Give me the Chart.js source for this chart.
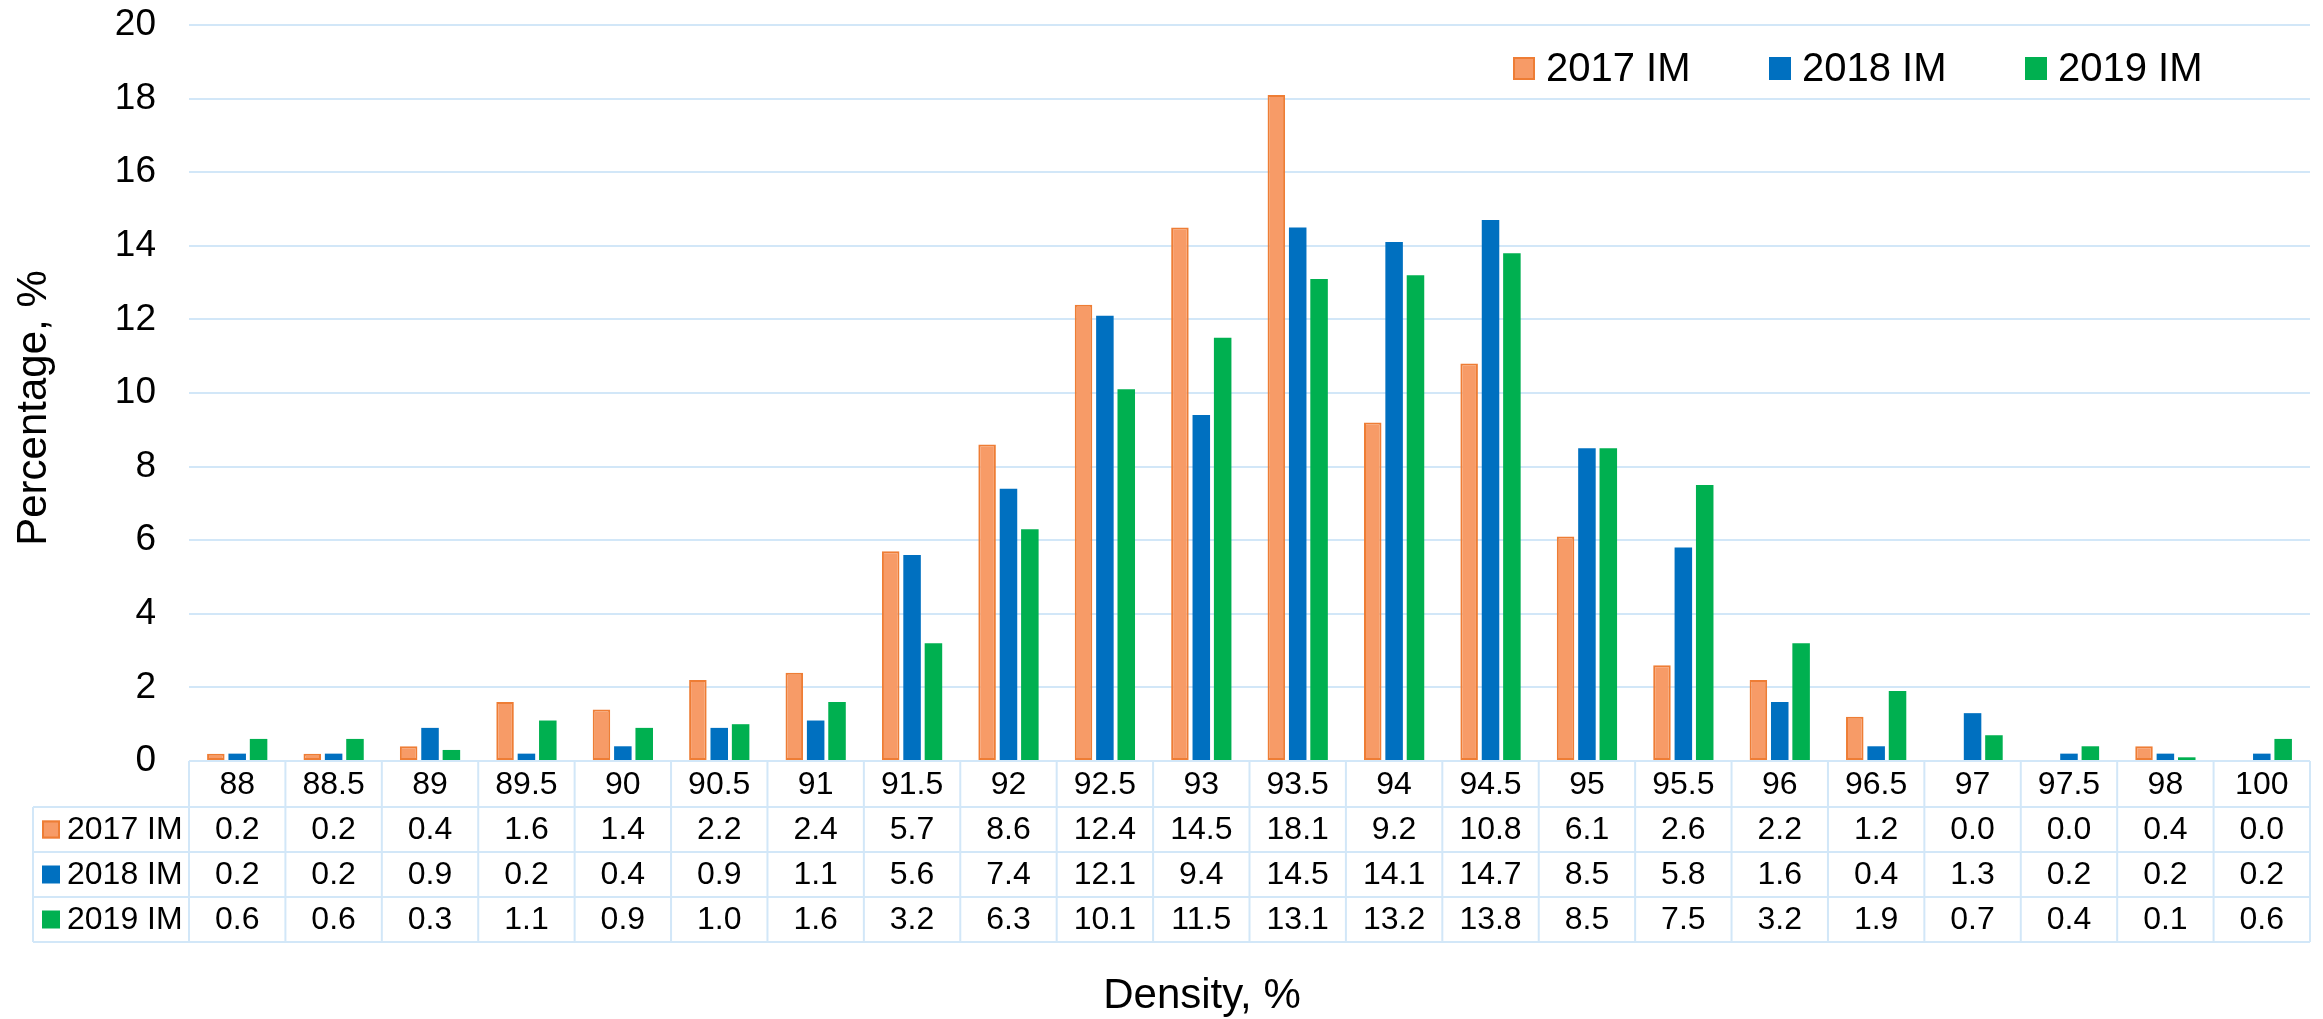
<!DOCTYPE html>
<html>
<head>
<meta charset="utf-8">
<title>Density distribution, 2017-2019 IM</title>
<script src="https://cdn.jsdelivr.net/npm/chart.js@4.4.1/dist/chart.umd.min.js"></script>
<style>
    html, body { margin: 0; padding: 0; background: #ffffff; }
    #densityChart { display: block; }
</style>
</head>
<body>
<canvas id="densityChart" width="2323" height="1019"></canvas>
<script>
// Chart data
const densityLabels = ['88', '88.5', '89', '89.5', '90', '90.5', '91', '91.5', '92', '92.5', '93',
    '93.5', '94', '94.5', '95', '95.5', '96', '96.5', '97', '97.5', '98', '100'];
const im2017 = [0.2, 0.2, 0.4, 1.6, 1.4, 2.2, 2.4, 5.7, 8.6, 12.4, 14.5, 18.1, 9.2, 10.8, 6.1, 2.6, 2.2, 1.2, 0.0, 0.0, 0.4, 0.0];
const im2018 = [0.2, 0.2, 0.9, 0.2, 0.4, 0.9, 1.1, 5.6, 7.4, 12.1, 9.4, 14.5, 14.1, 14.7, 8.5, 5.8, 1.6, 0.4, 1.3, 0.2, 0.2, 0.2];
const im2019 = [0.6, 0.6, 0.3, 1.1, 0.9, 1.0, 1.6, 3.2, 6.3, 10.1, 11.5, 13.1, 13.2, 13.8, 8.5, 7.5, 3.2, 1.9, 0.7, 0.4, 0.1, 0.6];
const seriesNames = ['2017 IM', '2018 IM', '2019 IM'];
const yMin = 0;
const yMax = 20;
const yStep = 2;

const FONT = '"Liberation Sans", Arial, Helvetica, sans-serif';
const GRID_COLOR = '#d2e7f8';
const fills = ['#f79b67', '#0070c0', '#00b050'];
const borders = ['#ee7d35', '#0070c0', '#00b050'];

// Draw a legend key (small square), with the orange one outlined
function drawKey(ctx, i, x, y, w, h) {
    ctx.fillStyle = fills[i];
    ctx.fillRect(x, y, w, h);
    if (i === 0) {
        ctx.strokeStyle = borders[0];
        ctx.lineWidth = 2;
        ctx.strokeRect(x + 1, y + 1, w - 2, h - 2);
    }
}

// Data table, legend and axis titles drawn on top of the chart
const tablePlugin = {
    id: 'dataTable',
    afterDraw(chart) {
        const ctx = chart.ctx;
        const area = chart.chartArea;
        const xScale = chart.scales.x;
        const half = (xScale.getPixelForValue(1) - xScale.getPixelForValue(0)) / 2;
        const rows = [im2017, im2018, im2019];

        const top = area.bottom;
        const headerBottom = top + 46;
        const rowH = 45;
        const tableBottom = headerBottom + rowH * rows.length;
        const labelLeft = 33;

        ctx.save();
        ctx.strokeStyle = GRID_COLOR;
        ctx.lineWidth = 2;
        ctx.beginPath();
        // horizontal lines
        ctx.moveTo(area.left, top);
        ctx.lineTo(area.right, top);
        for (let r = 0; r <= rows.length; r++) {
            const y = headerBottom + r * rowH;
            ctx.moveTo(labelLeft, y);
            ctx.lineTo(area.right, y);
        }
        // vertical lines
        ctx.moveTo(labelLeft, headerBottom);
        ctx.lineTo(labelLeft, tableBottom);
        for (let i = 0; i <= densityLabels.length; i++) {
            const x = i < densityLabels.length ? xScale.getPixelForValue(i) - half : area.right;
            ctx.moveTo(x, top);
            ctx.lineTo(x, tableBottom);
        }
        ctx.stroke();

        // cell texts
        ctx.fillStyle = '#000000';
        ctx.font = '32px ' + FONT;
        ctx.textAlign = 'center';
        ctx.textBaseline = 'middle';
        densityLabels.forEach((label, i) => {
            const x = xScale.getPixelForValue(i);
            ctx.fillText(label, x, (top + headerBottom) / 2 + 1);
            rows.forEach((values, r) => {
                const y = headerBottom + r * rowH + rowH / 2 + 1;
                ctx.fillText(values[i].toFixed(1), x, y);
            });
        });

        // row labels with keys
        ctx.textAlign = 'left';
        seriesNames.forEach((name, r) => {
            const cy = headerBottom + r * rowH + rowH / 2;
            drawKey(ctx, r, 42, cy - 9, 18, 18);
            ctx.fillStyle = '#000000';
            ctx.fillText(name, 67, cy + 1);
        });

        // legend inside the plot area
        ctx.font = '40px ' + FONT;
        const legendX = [1513, 1769, 2025];
        seriesNames.forEach((name, i) => {
            drawKey(ctx, i, legendX[i], 57, 22, 23);
            ctx.fillStyle = '#000000';
            ctx.fillText(name, legendX[i] + 33, 70);
        });

        // axis titles
        ctx.font = '42px ' + FONT;
        ctx.textAlign = 'center';
        ctx.fillText('Density, %', 1202, 996);
        ctx.translate(34, 408);
        ctx.rotate(-Math.PI / 2);
        ctx.fillText('Percentage, %', 0, 0);
        ctx.restore();
    }
};

const ctx = document.getElementById('densityChart').getContext('2d');
const densityChart = new Chart(ctx, {
    type: 'bar',
    data: {
        labels: densityLabels,
        datasets: [im2017, im2018, im2019].map((values, i) => ({
            label: seriesNames[i],
            data: values,
            backgroundColor: fills[i],
            borderColor: borders[i],
            borderWidth: i === 0 ? 2 : 0,
            borderSkipped: false,
            categoryPercentage: 0.665,
            barPercentage: 0.82
        }))
    },
    options: {
        responsive: false,
        animation: false,
        devicePixelRatio: 1,
        layout: {
            padding: { top: 25, right: 13, bottom: 0, left: 0 }
        },
        plugins: {
            legend: { display: false },
            tooltip: { enabled: false }
        },
        scales: {
            x: {
                grid: { display: false },
                border: { display: false },
                ticks: { display: false },
                afterFit: (scale) => { scale.height = 1019 - 761; }
            },
            y: {
                min: yMin,
                max: yMax,
                afterFit: (scale) => {
                    scale.width = 189;
                    scale.paddingTop = 0;
                    scale.paddingBottom = 0;
                },
                ticks: {
                    stepSize: yStep,
                    padding: 33,
                    color: '#000000',
                    font: { family: FONT, size: 37 }
                },
                grid: {
                    color: GRID_COLOR,
                    lineWidth: 2,
                    drawTicks: false
                },
                border: { display: false }
            }
        }
    },
    plugins: [tablePlugin]
});
</script>
</body>
</html>
